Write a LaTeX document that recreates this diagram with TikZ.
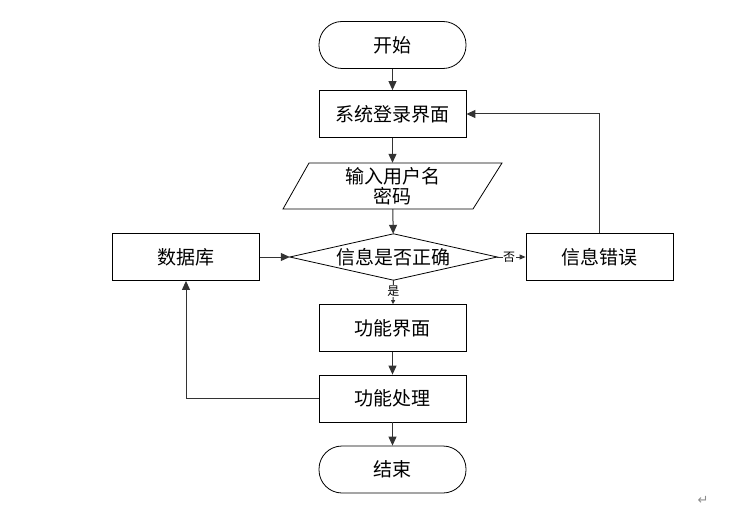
\documentclass[tikz,border=0pt]{standalone}
\usepackage{fontspec}
\newfontfamily\cjk{Noto Sans CJK SC}
\newfontfamily\symfont{DejaVu Sans}
\usetikzlibrary{arrows.meta}
\begin{document}
\begin{tikzpicture}[x=1pt,y=-1pt,
  box/.style={draw=black,line width=0.8pt,minimum width=147pt,minimum height=47pt,inner sep=0pt,font=\cjk\fontsize{19}{21}\selectfont},
  term/.style={box,rounded corners=23pt},
  plain/.style={inner sep=0pt,font=\cjk\fontsize{19}{20}\selectfont,align=center},
  conn/.style={draw=black!80,line width=1pt,-{Triangle[length=9pt,width=8pt]}},
  small/.style={fill=white,inner sep=0.5pt,font=\cjk\fontsize{12}{13}\selectfont}]
\path[use as bounding box] (0,0) rectangle (752,516);

\node[term] (start) at (392.5,45) {开始};
\node[box] (login) at (392.5,114) {系统登录界面};
% input parallelogram
\node[plain,minimum width=166pt,minimum height=46pt] (input) at (392.5,186) {输入用户名\\密码};
\draw[line width=0.8pt] (309,163) -- (502,163) -- (473,209) -- (283,209) -- cycle;
% decision diamond
\node[plain,minimum width=207pt,minimum height=46pt] (dec) at (393.5,257) {信息是否正确};
\draw[line width=0.8pt] (dec.west) -- (dec.north) -- (dec.east) -- (dec.south) -- cycle;
\node[box] (db) at (186,257) {数据库};
\node[box] (err) at (599.5,257) {信息错误};
\node[box] (func) at (392.5,328) {功能界面};
\node[box] (proc) at (392.5,398.5) {功能处理};
\node[term] (end) at (392.5,469.5) {结束};

\draw[conn] (start) -- (login);
\draw[conn] (login) -- (input);
\draw[conn] (input) -- (dec);
\draw[conn] (db) -- (dec.west);
\draw[conn,-{Triangle[length=6pt,width=5pt]}] (dec.east) -- node[small,pos=0.42] (no) {否} (err);
\draw[conn,-{Triangle[length=4pt,width=4pt]}] (dec.south) -- node[small,pos=0.45] (yes) {是} (func);
\draw[conn] (err.north) |- (login.east);
\draw[conn] (func) -- (proc);
\draw[conn] (proc) -- (end);
\draw[conn] (proc.west) -| (db.south);

\node[text=black!45,font=\symfont\fontsize{13}{14}\selectfont] (ret) at (703,500) {↵};
\end{tikzpicture}
\end{document}
